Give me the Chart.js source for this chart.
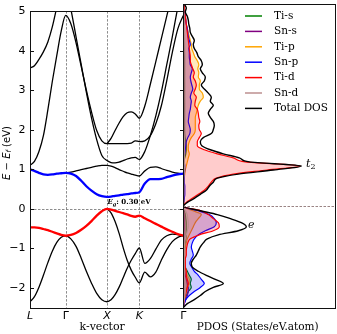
<!DOCTYPE html>
<html><head><meta charset="utf-8">
<script src="https://cdn.jsdelivr.net/npm/chart.js@4.4.0/dist/chart.umd.min.js"></script>
<style>
html,body{margin:0;padding:0;background:#fff;}
#wrap{position:relative;width:337px;height:334px;overflow:hidden;}
canvas{position:absolute;left:0;top:0;}
</style></head><body>
<div id="wrap"><canvas id="bands" width="337" height="334"></canvas><canvas id="pdos" width="337" height="334"></canvas></div>
<script>
// ---------- band structure data ----------
const kTicks = [0, 0.866, 1.868, 2.652, 3.719];
const kLabels = ['L', 'Γ', 'X', 'K', 'Γ'];
const yTicks = [-2, -1, 0, 1, 2, 3, 4, 5];
const kGrid = [0,0.108,0.217,0.325,0.433,0.541,0.650,0.758,0.866,
  0.991,1.117,1.242,1.367,1.492,1.618,1.743,1.868,
  1.966,2.064,2.162,2.260,2.358,2.456,2.554,2.652,
  2.785,2.919,3.052,3.185,3.319,3.452,3.586,3.719];

const bandV1 = [-2.35,-2.22,-1.98,-1.68,-1.36,-1.07,-0.85,-0.72,-0.68,
  -0.76,-0.95,-1.25,-1.58,-1.88,-2.14,-2.30,-2.35,
  -2.30,-2.17,-1.98,-1.74,-1.50,-1.30,-1.13,-0.99,
  -1.38,-1.26,-1.02,-0.79,-0.68,-0.64,-0.65,-0.68];
const bandV2 = [null,null,null,null,null,null,null,null,null,
  null,null,null,null,null,null,null,0.0,
  -0.10,-0.32,-0.62,-0.98,-1.30,-1.55,-1.73,-1.87,
  -1.60,-1.72,-1.60,-1.30,-1.03,-0.83,-0.72,-0.68];
const bandVBM = [-0.47,-0.47,-0.48,-0.51,-0.54,-0.58,-0.62,-0.66,-0.68,
  -0.66,-0.61,-0.53,-0.43,-0.31,-0.17,-0.06,0.0,
  -0.02,-0.05,-0.08,-0.11,-0.14,-0.18,-0.20,-0.17,
  -0.24,-0.31,-0.38,-0.45,-0.52,-0.58,-0.64,-0.68];
const bandCBM = [1.00,0.96,0.91,0.87,0.86,0.87,0.89,0.90,0.91,
  0.89,0.83,0.71,0.57,0.46,0.37,0.32,0.30,
  0.31,0.33,0.34,0.36,0.37,0.39,0.40,0.42,
  0.64,0.75,0.75,0.76,0.80,0.84,0.87,0.89];
const bandC2 = [null,null,null,null,null,null,null,null,0.91,
  0.93,0.96,0.99,1.02,1.05,1.08,1.10,1.10,
  1.08,1.04,0.99,0.95,0.91,0.88,0.85,0.83,
  0.96,1.05,1.06,1.02,0.97,0.93,0.90,0.89];
const bandC3 = [1.10,1.20,1.45,1.85,2.50,3.22,3.88,4.50,4.89,
  4.68,4.20,3.60,3.00,2.45,1.98,1.72,1.65,
  1.65,1.65,1.65,1.65,1.65,1.66,1.72,1.70,
  1.72,1.85,2.15,2.60,3.25,3.95,4.55,4.89];
const bandC4 = [null,null,null,null,null,null,null,null,5.6,
  5.05,4.35,3.65,2.95,2.30,1.75,1.35,1.22,
  1.17,1.16,1.18,1.22,1.26,1.29,1.30,1.25,
  1.45,1.85,2.35,2.95,3.65,4.35,5.1,5.8];
const bandC5 = [null,null,null,null,null,null,null,null,null,
  null,null,null,null,null,null,null,1.65,
  1.78,1.98,2.17,2.33,2.43,2.45,2.40,2.29,
  2.60,3.15,3.72,4.30,4.88,5.45,6.0,6.5];
const bandC6 = [3.56,3.62,3.78,3.97,4.22,4.60,5.10,5.60,6.0,
  null,null,null,null,null,null,null,null,
  null,null,null,null,null,null,null,null,
  null,null,null,null,null,null,null,null];
const gapText = 'E_g: 0.30 eV';

// ---------- PDOS data (States/eV.atom) ----------
const energies = [-2.5,-2.4,-2.3,-2.2,-2.1,-2.0,-1.9,-1.8,-1.7,-1.6,-1.5,-1.4,-1.3,-1.2,-1.1,-1.0,-0.9,-0.8,-0.7,-0.6,-0.5,-0.4,-0.3,-0.2,-0.1,
  0.0,0.1,0.2,0.3,0.4,0.5,0.6,0.7,0.8,0.9,1.0,1.1,1.2,1.3,1.4,1.5,1.6,1.7,1.8,1.9,2.0,2.1,2.2,2.3,2.4,2.5,2.6,2.7,2.8,2.9,
  3.0,3.1,3.2,3.3,3.4,3.5,3.6,3.7,3.8,3.9,4.0,4.1,4.2,4.3,4.4,4.5,4.6,4.7,4.8,4.9,5.0];
const dosTiS = [0,0.05,0.15,0.3,0.5,0.8,0.7,0.8,0.6,0.4, 0.2,0.15,0.1,0.1,0.1,0.15,0.2,0.25,0.3,0.3, 0.3,0.3,0.25,0.2,0.1,
  0,0.03,0.03,0.03,0.03,0.03,0.03,0.05,0.05,0.05, 0.05,0.05,0.15,0.25,0.3,0.3,0.25,0.2,0.15,0.12, 0.1,0.1,0.1,0.1,0.12,0.12,0.1,0.1,0.1,0.12,
  0.12,0.1,0.1,0.1,0.1,0.1,0.1,0.1,0.1,0.1, 0.1,0.08,0.08,0.08,0.07,0.07,0.06,0.05,0.05,0.04, 0.03];
const dosSnS = [0,0.1,0.25,0.4,0.5,0.5,0.4,0.3,0.2,0.15, 0.1,0.08,0.06,0.05,0.05,0.05,0.05,0.05,0.05,0.08, 0.1,0.1,0.1,0.08,0.05,
  0,0.02,0.02,0.02,0.02,0.02,0.02,0.02,0.03,0.03, 0.03,0.03,0.03,0.04,0.04,0.05,0.05,0.05,0.05,0.05, 0.05,0.05,0.05,0.05,0.05,0.05,0.05,0.05,0.05,0.05,
  0.05,0.05,0.05,0.05,0.05,0.05,0.05,0.05,0.05,0.05, 0.05,0.05,0.05,0.05,0.05,0.05,0.05,0.05,0.04,0.03, 0.02];
const dosTiP = [0,0.05,0.1,0.2,0.3,0.4,0.6,0.6,0.4,0.3, 0.2,0.2,0.15,0.15,0.15,0.2,0.3,0.4,0.6,0.8, 1.0,1.2,1.5,1.8,0.9,
  0,0.05,0.05,0.05,0.1,0.1,0.1,0.1,0.15,0.2, 0.3,0.4,0.5,0.6,0.5,0.5,0.6,0.8,1.1,1.2, 1.2,1.2,1.2,1.3,1.4,1.5,1.7,2.0,1.9,1.6,
  1.6,1.7,1.5,1.55,1.45,1.55,1.4,1.15,1.0,0.85, 0.8,0.7,0.6,0.5,0.4,0.3,0.25,0.2,0.15,0.1, 0.05];
const dosSnP = [0,0.1,0.25,0.6,1.1,1.7,2.1,1.8,1.5,1.1, 0.85,0.65,0.8,1.0,0.9,0.8,0.9,1.1,1.5,2.2, 3.1,3.3,3.1,2.6,1.4,
  0,0.05,0.1,0.15,0.15,0.15,0.1,0.1,0.1,0.15, 0.15,0.1,0.1,0.15,0.2,0.25,0.3,0.45,0.65,0.7, 0.6,0.5,0.55,0.6,0.7,0.75,0.8,0.7,0.8,0.95,
  0.85,0.75,0.7,0.8,0.9,0.7,0.65,0.6,0.6,0.55, 0.7,0.6,0.5,0.45,0.4,0.3,0.25,0.2,0.15,0.1, 0.05];
const dosTiD = [0,0.05,0.1,0.2,0.3,0.4,0.5,0.4,0.3,0.3, 0.2,0.2,0.2,0.3,0.3,0.35,0.45,0.7,1.6,3.0, 3.6,3.5,3.0,2.5,1.7,
  0,0.3,0.9,1.5,2.1,2.5,2.8,3.3,5.0,8.4, 11.7,6.2,5.0,3.4,2.1,1.4,1.4,1.6,1.8,1.6, 1.55,1.65,1.55,1.5,1.4,1.15,1.2,1.3,1.05,1.2,
  1.3,1.2,1.0,1.1,0.95,0.8,0.7,0.7,0.65,0.6, 0.55,0.5,0.45,0.4,0.35,0.3,0.25,0.2,0.17,0.12, 0.05];
const dosSnD = [0,0.05,0.1,0.15,0.2,0.2,0.2,0.15,0.1,0.1, 0.1,0.1,0.1,0.1,0.1,0.1,0.15,0.2,0.3,0.4, 0.5,0.5,0.45,0.4,0.2,
  0,0.02,0.03,0.05,0.05,0.05,0.05,0.05,0.08,0.1, 0.15,0.1,0.1,0.1,0.1,0.1,0.12,0.15,0.18,0.2, 0.2,0.2,0.2,0.2,0.2,0.2,0.2,0.2,0.2,0.2,
  0.2,0.2,0.2,0.2,0.2,0.2,0.2,0.2,0.18,0.17, 0.16,0.15,0.14,0.13,0.12,0.1,0.09,0.08,0.06,0.04, 0.02];
const dosTotal = [0,0.4,1.1,1.7,2.2,3.0,4.0,3.2,2.3,1.5, 0.9,0.8,1.0,1.3,1.5,1.7,2.0,2.4,3.5,5.5, 6.3,5.8,4.7,3.4,1.6,
  0,0.4,1.1,1.7,2.3,2.6,3.0,3.4,5.5,9.0, 11.8,6.6,5.6,4.0,2.7,1.85,1.7,2.0,2.8,3.0, 3.1,3.0,2.7,2.5,2.7,3.0,2.7,2.8,2.5,2.1,
  1.8,2.1,2.2,1.9,1.7,1.9,1.8,1.5,1.35,1.1, 1.0,1.1,0.9,0.7,0.65,0.55,0.5,0.4,0.2,0.3, 0.1];
const pdosLabels = ['Ti-s','Sn-s','Ti-p','Sn-p','Ti-d','Sn-d','Total DOS'];

// ---------- helpers ----------
Chart.defaults.font.family = '"DejaVu Sans"';
Chart.defaults.color = '#000';
const SERIF = '"DejaVu Serif"';
function richText(ctx, x, y, segs, align) {
  let w = 0;
  segs.forEach(s => { ctx.font = s.font; s.w = ctx.measureText(s.t).width; w += s.w; });
  let cx = align === 'center' ? x - w / 2 : x;
  segs.forEach(s => { ctx.font = s.font; ctx.fillText(s.t, cx, y + (s.dy || 0)); cx += s.w; });
}
const bandPts = arr => arr.map((e, i) => ({x: kGrid[i], y: e}));
const dosPts = arr => arr.map((v, i) => ({x: v, y: energies[i]}));

// ---------- band chart ----------
const bandDefs = [
  {d: bandV1, c: '#000', w: 1.3, o: 5}, {d: bandV2, c: '#000', w: 1.3, o: 5},
  {d: bandC2, c: '#000', w: 1.3, o: 5}, {d: bandC3, c: '#000', w: 1.3, o: 5},
  {d: bandC4, c: '#000', w: 1.3, o: 5}, {d: bandC5, c: '#000', w: 1.3, o: 5},
  {d: bandC6, c: '#000', w: 1.3, o: 5},
  {d: bandVBM, c: '#ff0000', w: 2.3, o: 1}, {d: bandCBM, c: '#0000ff', w: 2.3, o: 1}
];
const bandDeco = {
  id: 'bandDeco',
  beforeDatasetsDraw(chart) {
    const {ctx, chartArea: a, scales: {x, y}} = chart;
    ctx.save();
    ctx.strokeStyle = '#7f7f7f'; ctx.lineWidth = 0.9; ctx.setLineDash([2.5, 1.5]);
    for (let i = 1; i < kTicks.length - 1; i++) {
      const px = Math.round(x.getPixelForValue(kTicks[i])) + 0.5;
      ctx.beginPath(); ctx.moveTo(px, a.top); ctx.lineTo(px, a.bottom); ctx.stroke();
    }
    const py = Math.round(y.getPixelForValue(0)) + 0.5;
    ctx.beginPath(); ctx.moveTo(a.left, py); ctx.lineTo(a.right, py); ctx.stroke();
    ctx.restore();
  },
  afterDraw(chart) {
    const {ctx, chartArea: a, scales: {x, y}} = chart;
    ctx.save();
    ctx.strokeStyle = '#111'; ctx.lineWidth = 1;
    const L = Math.round(a.left) + 0.5, R = Math.round(a.right) + 0.5, T = Math.round(a.top) + 0.5, B = Math.round(a.bottom) + 0.5;
    ctx.strokeRect(L, T, R - L, B - T);
    yTicks.forEach(v => {
      const py = Math.round(y.getPixelForValue(v)) + 0.5;
      ctx.beginPath(); ctx.moveTo(L, py); ctx.lineTo(L + 3.5, py); ctx.moveTo(R, py); ctx.lineTo(R - 3.5, py); ctx.stroke();
    });
    ctx.fillStyle = '#000';
    // gap annotation
    ctx.textBaseline = 'alphabetic'; ctx.textAlign = 'left';
    const gx = x.getPixelForValue(kTicks[2]) + 0.5, gy = y.getPixelForValue(0.11);
    const gp = gapText.split('_');
    richText(ctx, gx, gy, [
      {t: gp[0], font: 'italic bold 7px ' + SERIF},
      {t: gp[1].charAt(0), font: 'italic bold 5px ' + SERIF, dy: 1.8},
      {t: gp[1].slice(1), font: 'bold 7px ' + SERIF}
    ], 'left');
    // x title
    ctx.textBaseline = 'middle';
    richText(ctx, (a.left + a.right) / 2 - 4.5, 327, [{t: 'k-vector', font: '11px ' + SERIF}], 'center');
    // y title
    ctx.translate(7, 153); ctx.rotate(-Math.PI / 2);
    richText(ctx, 0, 0, [
      {t: 'E', font: 'italic 10px "DejaVu Sans"'},
      {t: ' \u2212 ', font: '10px "DejaVu Sans"'},
      {t: 'E', font: 'italic 10px "DejaVu Sans"'},
      {t: 'f', font: 'italic 7px "DejaVu Sans"', dy: 2.5},
      {t: ' (eV)', font: '10px "DejaVu Sans"'}
    ], 'center');
    ctx.restore();
  }
};
new Chart(document.getElementById('bands'), {
  type: 'line',
  data: {datasets: bandDefs.map(b => ({data: bandPts(b.d), borderColor: b.c, borderWidth: b.w, order: b.o,
    pointRadius: 0, fill: false, cubicInterpolationMode: 'monotone', capBezierPoints: false, spanGaps: false}))},
  options: {
    responsive: false, animation: false, devicePixelRatio: 1,
    layout: {autoPadding: false, padding: {left: 0, right: 153.7, top: 4, bottom: 0}},
    plugins: {legend: {display: false}, tooltip: {enabled: false}},
    scales: {
      x: {type: 'linear', min: 0, max: kTicks[kTicks.length - 1],
        afterBuildTicks: s => { s.ticks = kTicks.map(v => ({value: v})); },
        afterFit: s => { s.height = 26.3; },
        ticks: {padding: 2, maxRotation: 0, autoSkip: false, color: '#000',
          font: c => ({family: '"DejaVu Sans"', size: 11, style: kLabels[c.index] === 'Γ' ? 'normal' : 'italic'}),
          callback: (v, i) => kLabels[i]},
        grid: {display: false, drawTicks: false}, border: {display: false}},
      y: {type: 'linear', min: -2.5, max: 5,
        afterBuildTicks: s => { s.ticks = yTicks.map(v => ({value: v})); },
        afterFit: s => { s.width = 30; },
        ticks: {padding: 4.5, color: '#000', font: {size: 11}, callback: v => v < 0 ? '\u2212' + (-v) : String(v)},
        grid: {display: false, drawTicks: false}, border: {display: false}}
    }
  },
  plugins: [bandDeco]
});

// ---------- PDOS chart ----------
const pdosDefs = [
  {d: dosTiS, c: '#008000', f: 'rgba(0,128,0,0.25)', o: 6},
  {d: dosSnS, c: '#800080', f: 'rgba(128,0,128,0.25)', o: 5},
  {d: dosTiP, c: '#ffa500', f: 'rgba(255,165,0,0.25)', o: 4},
  {d: dosSnP, c: '#0000ff', f: 'rgba(0,0,255,0.2)', o: 3},
  {d: dosTiD, c: '#ff0000', f: 'rgba(255,0,0,0.2)', o: 2},
  {d: dosSnD, c: '#bc8f8f', f: 'rgba(188,143,143,0.3)', o: 1},
  {d: dosTotal, c: '#000000', f: false, o: 0}
];
const pdosDeco = {
  id: 'pdosDeco',
  afterDraw(chart) {
    const {ctx, chartArea: a, scales: {y}} = chart;
    ctx.save();
    const L = Math.round(a.left) + 0.5, R = Math.round(a.right) - 0.5, T = Math.round(a.top) + 0.5, B = Math.round(a.bottom) + 0.5;
    const py = Math.round(y.getPixelForValue(0)) + 0.5;
    ctx.strokeStyle = '#9a8484'; ctx.lineWidth = 1; ctx.setLineDash([2.5, 1.5]);
    ctx.beginPath(); ctx.moveTo(L, py); ctx.lineTo(R, py); ctx.stroke();
    ctx.setLineDash([]);
    ctx.strokeStyle = '#111';
    ctx.strokeRect(L, T, R - L, B - T);
    // legend
    ctx.textBaseline = 'middle'; ctx.textAlign = 'left'; ctx.fillStyle = '#000';
    pdosLabels.forEach((lab, i) => {
      const ry = 16 + i * 15.4;
      ctx.strokeStyle = pdosDefs[i].c; ctx.lineWidth = 1.5;
      ctx.beginPath(); ctx.moveTo(245, ry); ctx.lineTo(262, ry); ctx.stroke();
      ctx.font = '10.5px ' + SERIF; ctx.fillText(lab, 274, ry);
    });
    // peak labels
    ctx.textBaseline = 'alphabetic';
    const t2y = y.getPixelForValue(0.98);
    richText(ctx, 306, t2y, [{t: 't', font: 'italic 11px ' + SERIF}, {t: '2', font: '8px ' + SERIF, dy: 2.5}], 'left');
    richText(ctx, 248, y.getPixelForValue(-0.54), [{t: 'e', font: 'italic 11px ' + SERIF}], 'left');
    ctx.textBaseline = 'middle';
    richText(ctx, (a.left + a.right) / 2 - 2, 327, [{t: 'PDOS (States/eV.atom)', font: '10.5px ' + SERIF}], 'center');
    ctx.restore();
  }
};
new Chart(document.getElementById('pdos'), {
  type: 'line',
  data: {datasets: pdosDefs.map((p, i) => ({label: pdosLabels[i], data: dosPts(p.d), borderColor: p.c, borderWidth: i === 6 ? 1.4 : 1.2,
    backgroundColor: p.f || 'rgba(0,0,0,0)', fill: p.f ? 'origin' : false, order: p.o, pointRadius: 0,
    cubicInterpolationMode: 'monotone'}))},
  options: {
    indexAxis: 'y', responsive: false, animation: false, devicePixelRatio: 1,
    layout: {autoPadding: false, padding: {left: 183.3, right: 1, top: 4, bottom: 26.3}},
    plugins: {legend: {display: false}, tooltip: {enabled: false}},
    scales: {
      x: {type: 'linear', min: 0, max: 15.27, display: false},
      y: {type: 'linear', min: -2.5, max: 5, display: false}
    }
  },
  plugins: [pdosDeco]
});
</script>
</body></html>
